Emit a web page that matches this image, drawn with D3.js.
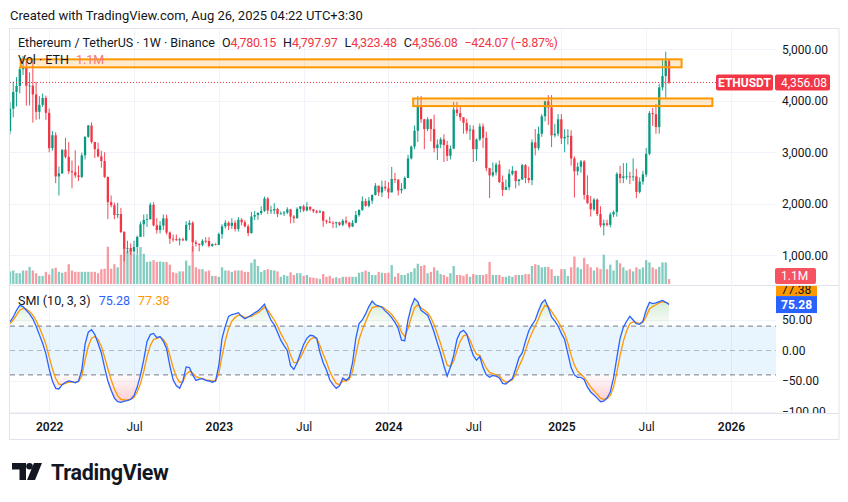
<!DOCTYPE html>
<html>
<head>
<meta charset="utf-8">
<script src="https://cdn.jsdelivr.net/npm/d3@7"></script>
<style>
  body { margin: 0; background: #fff; }
  svg { display: block; font-family: Roboto, "Liberation Sans", sans-serif; }
</style>
</head>
<body>
<svg id="chart" width="848" height="502"></svg>
<script>
// ETH/USDT weekly candles, Binance, first bar = week of 2021-10-11
const weeklyOpen = [
  3414,3847,4171,4288,4612,4648,4292,4295,4123,3785,
  3920,4055,3765,3080,3330,2530,2590,3050,2910,2630,
  2610,2550,2520,2940,3300,3520,3200,3060,2920,2830,
  2520,2030,1970,1780,1800,1450,1125,1140,1075,1160,
  1355,1600,1685,1700,1980,1580,1490,1575,1715,1440,
  1320,1312,1290,1310,1290,1590,1630,1250,1220,1200,
  1280,1275,1180,1215,1200,1410,1560,1630,1570,1630,
  1510,1690,1640,1560,1430,1750,1780,1820,1860,2100,
  1870,1870,1900,1800,1810,1830,1890,1750,1720,1900,
  1950,1870,1940,1890,1855,1830,1850,1670,1650,1630,
  1620,1640,1590,1670,1635,1555,1630,1780,1880,2050,
  1960,2060,2170,2350,2220,2330,2300,2220,2480,2470,
  2260,2290,2500,2880,3110,3420,3880,3640,3450,3640,
  3450,3080,3150,3250,3140,2930,3070,3830,3760,3680,
  3570,3420,3440,3060,3250,3500,3280,2690,2550,2610,
  2760,2420,2270,2320,2580,2640,2440,2470,2750,2500,
  2460,3190,3080,3360,3700,3990,3870,3330,3360,3640,
  3270,3300,3320,2880,2630,2720,2820,2170,2010,1890,
  2080,1800,1580,1620,1590,1790,1840,2580,2500,2530,
  2530,2520,2530,2230,2430,2570,2970,3760,3740,3490,
  4260,4480,4780.15
];
const weeklyHigh = [
  3970,4375,4460,4665,4868,4770,4550,4778,4370,4090,
  4140,4100,3850,3415,3390,2720,3050,3280,3200,2840,
  3040,2740,2990,3310,3530,3580,3200,3190,3030,3000,
  2530,2160,2020,2020,1920,1470,1280,1230,1280,1380,
  1650,1790,1800,2020,2030,1720,1660,1790,1790,1460,
  1400,1400,1340,1340,1660,1680,1660,1290,1230,1310,
  1350,1350,1230,1230,1440,1600,1680,1660,1720,1680,
  1740,1720,1680,1600,1840,1860,1835,1950,2140,2130,
  1960,2010,1920,1850,1860,1930,1900,1780,1930,1950,
  1980,2030,1950,1900,1880,1880,1860,1690,1750,1660,
  1650,1650,1700,1750,1640,1680,1860,1890,2140,2100,
  2130,2180,2400,2350,2450,2450,2420,2715,2600,2470,
  2400,2530,2950,3130,3520,4090,4095,3650,3680,3650,
  3730,3250,3290,3350,3220,3130,3975,3975,3890,3680,
  3650,3530,3520,3270,3560,3560,3400,2700,2800,2800,
  2840,2550,2470,2670,2730,2640,2480,2770,2770,2720,
  3250,3450,3500,3740,4000,4110,4110,3550,3740,3740,
  3450,3450,3430,2920,2800,2850,2850,2550,2150,2110,
  2100,1950,1690,1690,1830,1870,2610,2740,2790,2790,
  2620,2880,2680,2510,2640,3080,3800,3860,3940,4330,
  4790,4956,4797.97
];
const weeklyLow = [
  3350,3680,3890,4145,4500,3905,3910,3575,3630,3640,
  3880,3630,3000,3030,2400,2160,2580,2880,2580,2300,
  2500,2440,2500,2860,3280,3170,2890,2900,2700,2500,
  1700,1930,1700,1720,1430,880,1040,1000,1050,1010,
  1350,1360,1550,1690,1560,1420,1425,1490,1400,1220,
  1260,1280,1190,1270,1270,1490,1070,1170,1075,1170,
  1230,1150,1160,1190,1195,1320,1520,1490,1510,1460,
  1460,1580,1540,1370,1420,1680,1690,1780,1840,1800,
  1800,1800,1740,1790,1760,1800,1620,1625,1710,1830,
  1840,1850,1860,1820,1810,1820,1550,1610,1620,1530,
  1530,1570,1560,1600,1520,1550,1620,1750,1860,1940,
  1930,2000,2160,2150,2130,2250,2100,2220,2400,2160,
  2200,2280,2500,2860,3060,3200,3570,3060,3410,3210,
  3000,2850,3080,2810,2830,2860,3060,3700,3610,3360,
  3360,3240,2810,2830,3220,3080,2630,2110,2520,2550,
  2400,2150,2270,2260,2550,2300,2350,2460,2400,2400,
  2360,2940,3040,3300,3600,3530,3100,3290,3310,3160,
  3000,3150,2740,2120,2550,2600,2080,2000,1750,1860,
  1760,1540,1385,1560,1540,1740,1750,2400,2400,2470,
  2380,2440,2110,2200,2370,2520,2940,3510,3360,3360,
  4200,4060,4323.48
];
const weeklyClose = [
  3847,4171,4288,4612,4648,4292,4295,4123,3785,3920,
  4055,3765,3080,3330,2530,2590,3050,2910,2630,2610,
  2550,2520,2940,3300,3520,3200,3060,2920,2830,2520,
  2030,1970,1780,1800,1450,1125,1140,1075,1160,1355,
  1600,1685,1700,1980,1580,1490,1575,1715,1440,1320,
  1312,1290,1310,1290,1590,1630,1250,1220,1200,1280,
  1275,1180,1215,1200,1410,1560,1630,1570,1630,1510,
  1690,1640,1560,1430,1750,1780,1820,1860,2100,1870,
  1870,1900,1800,1810,1830,1890,1750,1720,1900,1950,
  1870,1940,1890,1855,1830,1850,1670,1650,1630,1620,
  1640,1590,1670,1635,1555,1630,1780,1880,2050,1960,
  2060,2170,2350,2220,2330,2300,2220,2480,2470,2260,
  2290,2500,2880,3110,3420,3880,3640,3450,3640,3450,
  3080,3150,3250,3140,2930,3070,3830,3760,3680,3570,
  3420,3440,3060,3250,3500,3280,2690,2550,2610,2760,
  2420,2270,2320,2580,2640,2440,2470,2750,2500,2460,
  3190,3080,3360,3700,3990,3870,3330,3360,3640,3270,
  3300,3320,2880,2630,2720,2820,2170,2010,1890,2080,
  1800,1580,1620,1590,1790,1840,2580,2500,2530,2530,
  2520,2530,2230,2430,2570,2970,3760,3740,3490,4260,
  4480,4780,4356.08
];
// weekly volume, millions of ETH
const weeklyVolume = [
  2.8,3.0,2.4,2.4,3.0,3.0,3.8,3.0,2.4,1.8,
  1.8,2.7,2.1,3.4,3.6,2.7,2.5,2.7,4.4,3.0,
  2.7,2.7,2.7,2.7,2.7,2.7,2.7,2.4,3.3,3.4,
  8.3,3.4,4.4,3.7,6.5,8.2,7.4,7.6,6.8,6.5,
  8.2,6.7,4.9,5.0,5.3,4.9,5.0,4.9,4.9,4.3,
  2.6,2.4,2.8,2.8,5.2,4.1,8.4,3.7,3.3,3.3,
  2.8,3.0,1.8,1.8,1.6,3.7,3.0,3.0,2.7,3.0,
  3.0,3.0,2.7,2.7,4.7,5.5,4.0,2.7,3.1,3.3,
  3.1,3.0,2.8,1.6,2.0,1.8,2.6,2.0,2.4,2.4,
  1.8,2.0,1.5,1.4,1.3,1.1,2.2,1.6,1.8,1.3,
  1.5,1.3,1.6,1.6,1.6,1.6,1.6,2.5,2.7,3.0,
  2.7,2.0,2.0,2.7,2.5,2.4,2.5,4.2,1.6,2.4,
  2.0,2.0,2.4,2.7,3.5,4.5,4.0,4.2,2.4,2.7,
  3.7,3.0,2.2,2.0,1.6,2.4,4.0,2.0,2.0,1.8,
  2.2,1.6,2.2,2.0,2.0,2.0,2.2,4.9,2.0,2.0,
  2.0,1.6,1.6,1.8,1.6,2.0,2.0,2.0,2.2,2.2,
  4.0,4.4,4.2,3.7,3.8,3.8,3.3,1.8,1.8,3.3,
  3.3,1.8,3.7,6.1,3.7,3.3,5.8,4.4,3.7,3.0,
  3.7,3.3,6.5,3.3,4.3,3.0,5.3,4.6,3.7,3.0,
  3.3,2.8,3.7,3.3,3.7,5.3,4.8,3.7,3.3,3.8,
  4.8,4.8,1.1
];
// SMI (10, 3, 3): main line and its signal line
const smiLine = [
  47,55,66,74,72,66,60,52,40,26,
  12,-5,-30,-50,-62,-63,-56,-52,-50,-51,
  -53,-50,-32,10,30,34,26,12,-4,-28,
  -50,-65,-78,-84,-85,-83,-82,-80,-74,-60,
  -40,-15,15,26,28,21,23,15,3,-25,
  -48,-58,-62,-50,-27,-28,-40,-49,-47,-46,
  -49,-50,-52,-50,-25,20,40,56,59,60,
  62,56,52,55,58,62,65,70,76,62,
  50,42,30,17,8,0,-25,-31,-20,-5,
  10,20,25,24,20,-3,-20,-32,-48,-56,
  -62,-58,-45,-49,-44,-20,20,44,50,60,
  72,81,75,73,71,65,60,54,46,36,
  17,16,50,72,85,80,66,62,58,45,
  30,12,-5,-25,-42,-27,-8,18,30,33,
  27,8,-8,-16,-10,-28,-40,-44,-41,-42,
  -45,-54,-55,-50,-46,-30,-12,-4,15,32,
  42,50,65,78,83,70,55,48,40,28,
  18,-5,-28,-40,-44,-44,-48,-60,-68,-73,
  -78,-84,-83,-78,-68,-45,-12,20,38,48,
  56,50,44,43,48,66,79,77,78,80,
  82,79,75.28
];
const smiSignal = [
  44,50,58,66,69,68,64,58,49,38,
  25,10,-10,-30,-46,-55,-56,-54,-52,-52,
  -52,-51,-42,-16,7,20,23,18,7,-11,
  -30,-48,-63,-74,-80,-81,-81,-80,-77,-68,
  -54,-34,-10,8,18,20,22,18,10,-8,
  -28,-43,-52,-51,-39,-34,-37,-43,-45,-46,
  -48,-49,-50,-50,-38,-9,16,36,48,54,
  58,57,54,55,56,59,62,66,71,66,
  58,50,40,28,18,9,-8,-20,-20,-12,
  -1,10,18,21,20,8,-6,-19,-34,-45,
  -54,-56,-50,-50,-47,-34,-7,18,34,47,
  60,70,72,72,72,68,64,59,52,44,
  30,23,36,54,70,75,70,66,62,54,
  42,27,11,-7,-24,-26,-17,0,15,24,
  26,17,4,-6,-8,-18,-29,-36,-38,-40,
  -42,-48,-52,-51,-48,-39,-26,-15,0,16,
  29,40,52,65,74,72,64,56,48,38,
  28,12,-8,-24,-34,-39,-44,-52,-60,-66,
  -72,-78,-80,-79,-74,-60,-36,-8,15,32,
  44,47,46,44,46,56,68,72,75,78,
  80,79,77.38
];

const priceTicks = [1000, 2000, 3000, 4000, 5000];
const smiTicks = [50, 0, -50, -100];
const timeTicks = ["2022-01-03","2022-07-04","2023-01-02","2023-07-03","2024-01-01","2024-07-01","2025-01-06","2025-07-07","2026-01-05"];
const timeTickLabels = ["2022","Jul","2023","Jul","2024","Jul","2025","Jul","2026"];

// user drawn zones: [start, end, low, high]
const zones = [
  ["2021-11-03", "2025-09-21", 4650, 4805],
  ["2024-02-23", "2025-11-26", 3897, 4045]
];

const lastClose = 4356.08;
const lastVolume = "1.1M";
const smiLevels = [40, 0, -40];

// ---------------------------------------------------------------------
const UP = "#089981", DOWN = "#f23645";
const svg = d3.select("#chart");
const left = 10, right = 776, frameRight = 839;
const mainTop = 30, mainBottom = 285, smiTop = 286, smiBottom = 413;

const weeks = d3.utcMonday.range(new Date(Date.UTC(2021, 9, 11)), new Date(Date.UTC(2025, 7, 26)));
const parse = d3.utcParse("%Y-%m-%d");
const candles = weeks.map((d, i) => ({
  date: d, o: weeklyOpen[i], h: weeklyHigh[i], l: weeklyLow[i], c: weeklyClose[i],
  v: weeklyVolume[i], smi: smiLine[i], sig: smiSignal[i]
}));

const x = d3.scaleUtc()
  .domain([new Date(Date.UTC(2021, 9, 11)), parse("2026-01-05")])
  .range([10, 731]);
const y = d3.scaleLinear().domain([1000, 5000]).range([255.2, 49.3]);
const yVol = d3.scaleLinear().domain([0, 10]).range([284, 239]);
const ySmi = d3.scaleLinear().domain([-50, 50]).range([381, 320]);

const defs = svg.append("defs");
defs.append("clipPath").attr("id", "clipMain").append("rect")
  .attr("x", left).attr("y", mainTop).attr("width", right - left).attr("height", mainBottom - mainTop);
defs.append("clipPath").attr("id", "clipSmi").append("rect")
  .attr("x", left).attr("y", smiTop).attr("width", right - left).attr("height", smiBottom - smiTop);
defs.append("clipPath").attr("id", "clipMainAxis").append("rect")
  .attr("x", right).attr("y", mainTop).attr("width", frameRight - right).attr("height", mainBottom - mainTop);
defs.append("clipPath").attr("id", "clipSmiAxis").append("rect")
  .attr("x", right).attr("y", smiTop).attr("width", frameRight - right).attr("height", smiBottom - smiTop);
defs.append("clipPath").attr("id", "clipAbove").append("rect")
  .attr("x", left).attr("y", smiTop).attr("width", right - left).attr("height", ySmi(40) - smiTop);
defs.append("clipPath").attr("id", "clipBelow").append("rect")
  .attr("x", left).attr("y", ySmi(-40)).attr("width", right - left).attr("height", smiBottom - ySmi(-40));

const gGreen = defs.append("linearGradient").attr("id", "gradGreen")
  .attr("gradientUnits", "userSpaceOnUse").attr("x1", 0).attr("x2", 0)
  .attr("y1", ySmi(90)).attr("y2", ySmi(40));
gGreen.append("stop").attr("offset", 0).attr("stop-color", "rgba(76,175,80,0.28)");
gGreen.append("stop").attr("offset", 1).attr("stop-color", "rgba(76,175,80,0.02)");
const gRed = defs.append("linearGradient").attr("id", "gradRed")
  .attr("gradientUnits", "userSpaceOnUse").attr("x1", 0).attr("x2", 0)
  .attr("y1", ySmi(-40)).attr("y2", ySmi(-90));
gRed.append("stop").attr("offset", 0).attr("stop-color", "rgba(242,54,69,0.02)");
gRed.append("stop").attr("offset", 1).attr("stop-color", "rgba(242,54,69,0.28)");

// header
svg.append("text").attr("x", 10).attr("y", 19.5)
  .style("font-size", "13px").style("fill", "#131722")
  .text("Created with TradingView.com, Aug 26, 2025 04:22 UTC+3:30");

// frame and separators
svg.append("rect").attr("x", 9.5).attr("y", 28.5).attr("width", frameRight - 9.5).attr("height", 411)
  .attr("fill", "none").attr("stroke", "#e0e3eb");
svg.append("line").attr("x1", left).attr("x2", frameRight).attr("y1", mainBottom + 0.5).attr("y2", mainBottom + 0.5)
  .attr("stroke", "#e0e3eb");

// grid
const grid = svg.append("g").attr("stroke", "#f0f3fa").attr("stroke-width", 1);
grid.selectAll(".vg").data(timeTicks).join("line")
  .attr("x1", d => Math.round(x(parse(d))) + 0.5).attr("x2", d => Math.round(x(parse(d))) + 0.5)
  .attr("y1", mainTop).attr("y2", smiBottom);
grid.selectAll(".hg").data(priceTicks).join("line")
  .attr("x1", left).attr("x2", right)
  .attr("y1", d => Math.round(y(d)) + 0.5).attr("y2", d => Math.round(y(d)) + 0.5);
grid.selectAll(".sg").data(smiTicks.filter(d => d !== 0)).join("line")
  .attr("x1", left).attr("x2", right)
  .attr("y1", d => Math.round(ySmi(d)) + 0.5).attr("y2", d => Math.round(ySmi(d)) + 0.5);

// main pane
const main = svg.append("g").attr("clip-path", "url(#clipMain)");
const bw = 2.3;
main.append("g").selectAll("rect").data(candles).join("rect")
  .attr("x", d => x(d.date) - bw / 2).attr("width", bw)
  .attr("y", d => yVol(d.v)).attr("height", d => yVol(0) - yVol(d.v))
  .attr("fill", d => d.c >= d.o ? "rgba(8,153,129,0.5)" : "rgba(242,54,69,0.5)");

main.append("g").selectAll("line").data(candles).join("line")
  .attr("x1", d => x(d.date)).attr("x2", d => x(d.date))
  .attr("y1", d => y(d.h)).attr("y2", d => y(d.l))
  .attr("stroke", d => d.c >= d.o ? UP : DOWN).attr("stroke-width", 0.9);
main.append("g").selectAll("rect").data(candles).join("rect")
  .attr("x", d => x(d.date) - bw / 2).attr("width", bw)
  .attr("y", d => y(Math.max(d.o, d.c)))
  .attr("height", d => Math.max(0.8, Math.abs(y(d.o) - y(d.c))))
  .attr("fill", d => d.c >= d.o ? UP : DOWN);

main.append("g").selectAll("rect").data(zones).join("rect")
  .attr("x", d => x(parse(d[0]))).attr("width", d => x(parse(d[1])) - x(parse(d[0])))
  .attr("y", d => y(d[3])).attr("height", d => y(d[2]) - y(d[3]))
  .attr("fill", "rgba(255,152,0,0.2)").attr("stroke", "#ff9800").attr("stroke-width", 2);

main.append("line").attr("x1", left).attr("x2", right)
  .attr("y1", y(lastClose)).attr("y2", y(lastClose))
  .attr("stroke", DOWN).attr("stroke-width", 1).attr("stroke-dasharray", "1,2");

// legends
const legend = svg.append("text").attr("x", 18).attr("y", 46.5).style("font-size", "12.5px").style("fill", "#131722");
legend.append("tspan").text("Ethereum / TetherUS · 1W · Binance");
const last = candles[candles.length - 1];
const fmt = d3.format(",.2f");
const chg = last.c - last.o;
[["O", last.o], ["H", last.h], ["L", last.l], ["C", last.c]].forEach(([k, v]) => {
  legend.append("tspan").attr("dx", 7).text(k);
  legend.append("tspan").style("fill", DOWN).style("letter-spacing", "-0.3px").text(fmt(v));
});
legend.append("tspan").attr("dx", 7).style("fill", DOWN).style("letter-spacing", "-0.3px")
  .text(`${fmt(chg).replace("-", "−")} (${d3.format(".2f")(chg / last.o * 100).replace("-", "−")}%)`);

const volLegend = svg.append("text").attr("x", 18).attr("y", 63.5).style("font-size", "12.5px").style("fill", "#131722");
volLegend.append("tspan").text("Vol · ETH");
volLegend.append("tspan").attr("dx", 7).style("fill", "#f7787f").text(lastVolume);

// price axis
const priceAxis = svg.append("g").attr("clip-path", "url(#clipMainAxis)")
  .append("g").attr("transform", `translate(${right},0)`)
  .call(d3.axisRight(y).tickValues(priceTicks).tickSize(0).tickPadding(6).tickFormat(fmt));
priceAxis.select(".domain").remove();
priceAxis.selectAll("text").style("font-size", "12px").style("fill", "#131722").style("font-family", "Roboto, sans-serif");

// price label boxes
const pl = svg.append("g");
pl.append("rect").attr("x", 716).attr("y", y(lastClose) - 8).attr("width", 57).attr("height", 16).attr("rx", 2).attr("fill", DOWN);
pl.append("text").attr("x", 744.5).attr("y", y(lastClose) + 4.3).attr("text-anchor", "middle")
  .style("font-size", "12px").style("font-weight", "700").style("fill", "#fff").text("ETHUSDT");
pl.append("rect").attr("x", 775).attr("y", y(lastClose) - 8).attr("width", 55).attr("height", 16).attr("rx", 2).attr("fill", DOWN);
pl.append("text").attr("x", 781).attr("y", y(lastClose) + 4.3)
  .style("font-size", "12px").style("fill", "#fff").text(fmt(lastClose));

// SMI pane
const smiG = svg.append("g").attr("clip-path", "url(#clipSmi)");
smiG.append("rect").attr("x", left).attr("width", right - left)
  .attr("y", ySmi(40)).attr("height", ySmi(-40) - ySmi(40)).attr("fill", "rgba(33,150,243,0.1)");
smiG.selectAll(".lvl").data(smiLevels).join("line")
  .attr("x1", left).attr("x2", right)
  .attr("y1", d => ySmi(d)).attr("y2", d => ySmi(d))
  .attr("stroke", "#787b86").attr("stroke-opacity", d => d === 0 ? 0.5 : 1)
  .attr("stroke-dasharray", "5,4");

const areaTo = lvl => d3.area().x(d => x(d.date)).y0(ySmi(lvl)).y1(d => ySmi(d.smi));
smiG.append("path").datum(candles).attr("clip-path", "url(#clipAbove)")
  .attr("d", areaTo(40)).attr("fill", "url(#gradGreen)");
smiG.append("path").datum(candles).attr("clip-path", "url(#clipBelow)")
  .attr("d", areaTo(-40)).attr("fill", "url(#gradRed)");

smiG.append("path").datum(candles)
  .attr("d", d3.line().x(d => x(d.date)).y(d => ySmi(d.sig)))
  .attr("fill", "none").attr("stroke", "#ff9800").attr("stroke-width", 1.3);
smiG.append("path").datum(candles)
  .attr("d", d3.line().x(d => x(d.date)).y(d => ySmi(d.smi)))
  .attr("fill", "none").attr("stroke", "#2962ff").attr("stroke-width", 1.3);

const smiLegend = svg.append("text").attr("x", 18).attr("y", 304.5).style("font-size", "12.5px").style("fill", "#131722");
smiLegend.append("tspan").text("SMI (10, 3, 3)");
smiLegend.append("tspan").attr("dx", 8).style("fill", "#2962ff").text(d3.format(".2f")(last.smi));
smiLegend.append("tspan").attr("dx", 8).style("fill", "#ff9800").text(d3.format(".2f")(last.sig));

const smiAxisG = svg.append("g").attr("clip-path", "url(#clipSmiAxis)");
const smiAxis = smiAxisG.append("g").attr("transform", `translate(${right},0)`)
  .call(d3.axisRight(ySmi).tickValues(smiTicks).tickSize(0).tickPadding(6)
    .tickFormat(d => d3.format(".2f")(d).replace("-", "−")));
smiAxis.select(".domain").remove();
smiAxis.selectAll("text").style("font-size", "12px").style("fill", "#131722").style("font-family", "Roboto, sans-serif");

const blueY = ySmi(last.smi);
smiAxisG.append("rect").attr("x", 775).attr("y", blueY - 8.5 - 16.5).attr("width", 42).attr("height", 16.5).attr("fill", "#ff9800");
smiAxisG.append("text").attr("x", 781).attr("y", blueY - 8.5 - 2.5).style("font-size", "12px").style("fill", "#131722")
  .text(d3.format(".2f")(last.sig));
smiAxisG.append("rect").attr("x", 775).attr("y", blueY - 8.5).attr("width", 42).attr("height", 17).attr("fill", "#2962ff");
smiAxisG.append("text").attr("x", 781).attr("y", blueY + 4.3).style("font-size", "12px").style("font-weight", "700").style("fill", "#fff")
  .text(d3.format(".2f")(last.smi));

// volume label on the price scale (drawn over the pane border, like the reference)
const volLabelY = Math.min(yVol(last.v), mainBottom - 9);
pl.append("rect").attr("x", 775).attr("y", volLabelY - 8).attr("width", 41).attr("height", 16).attr("rx", 2).attr("fill", "#f7525f");
pl.append("text").attr("x", 781).attr("y", volLabelY + 3.5)
  .style("font-size", "12px").style("fill", "#fff").text(lastVolume);
pl.raise();

// time axis
svg.append("line").attr("x1", left).attr("x2", frameRight).attr("y1", smiBottom + 0.5).attr("y2", smiBottom + 0.5)
  .attr("stroke", "#e0e3eb");
const timeAxis = svg.append("g").attr("transform", `translate(0,${smiBottom})`)
  .call(d3.axisBottom(x).tickValues(timeTicks.map(parse)).tickSize(0).tickPadding(9)
    .tickFormat((d, i) => timeTickLabels[i]));
timeAxis.select(".domain").remove();
timeAxis.selectAll("text").style("font-size", "12px").style("fill", "#131722").style("font-family", "Roboto, sans-serif")
  .style("font-weight", (d, i) => timeTickLabels[i] === "Jul" ? "400" : "600");

// logo
const logo = svg.append("g").attr("fill", "#131722");
logo.append("path").attr("d", "M12,463 H26 V480 H19.5 V469.5 H12 Z");
logo.append("circle").attr("cx", 29.5).attr("cy", 466.3).attr("r", 3.3);
logo.append("path").attr("d", "M34,463 H42 L35,480 H27 Z");
logo.append("text").attr("x", 51).attr("y", 479.5)
  .style("font-size", "21.5px").style("font-weight", "700").style("letter-spacing", "-0.3px").text("TradingView");
</script>
</body>
</html>
